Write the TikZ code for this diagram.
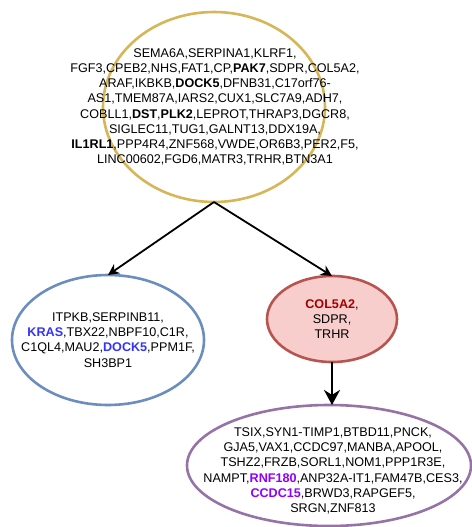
\documentclass[tikz,border=0pt]{standalone}
\usepackage{fontspec}
\setmainfont{Liberation Sans}
\usetikzlibrary{shapes.geometric,arrows.meta}
\definecolor{goldline}{HTML}{D6B656}
\definecolor{blueline}{HTML}{6C8EBF}
\definecolor{redline}{HTML}{B85450}
\definecolor{redfill}{HTML}{F8CECC}
\definecolor{purpleline}{HTML}{9673A6}
\definecolor{bluetxt}{HTML}{3333FF}
\definecolor{redtxt}{HTML}{A00000}
\definecolor{purpletxt}{HTML}{8F00FF}
\tikzset{
  oval/.style={ellipse, draw, line width=2.6pt, inner sep=0pt, outer sep=0pt},
  genes/.style={align=center, inner sep=0pt, font=\fontsize{12.6}{15.2}\selectfont},
  link/.style={draw=black, line width=1.8pt, -{Stealth[length=11pt,width=11pt]}},
  biglink/.style={draw=black, line width=2.8pt, -{Stealth[length=15pt,width=16pt]}}
}
\begin{document}
\begin{tikzpicture}[x=1pt,y=-1pt]
\useasboundingbox (0,0) rectangle (471,527);
% ellipses
\node[oval, draw=goldline, fill=white, minimum width=222pt, minimum height=190pt] (top) at (214,107) {};
\node[oval, draw=blueline, fill=white, minimum width=192pt, minimum height=130pt] (left) at (108,340) {};
\node[oval, draw=redline, fill=redfill, minimum width=130pt, minimum height=86pt] (red) at (332,319) {};
\node[oval, draw=purpleline, fill=white, minimum width=284pt, minimum height=121pt] (purple) at (329,465.5) {};
% texts
\node[genes] (toptext) at (215,107) {SEMA6A,SERPINA1,KLRF1,\\
FGF3,CPEB2,NHS,FAT1,CP,\textbf{PAK7},SDPR,COL5A2,\\
ARAF,IKBKB,\textbf{DOCK5},DFNB31,C17orf76-\\
AS1,TMEM87A,IARS2,CUX1,SLC7A9,ADH7,\\
COBLL1,\textbf{DST},\textbf{PLK2},LEPROT,THRAP3,DGCR8,\\
SIGLEC11,TUG1,GALNT13,DDX19A,\\
\textbf{IL1RL1},PPP4R4,ZNF568,VWDE,OR6B3,PER2,F5,\\
LINC00602,FGD6,MATR3,TRHR,BTN3A1};
\node[genes] (lefttext) at (108,340) {ITPKB,SERPINB11,\\
\textcolor{bluetxt}{\textbf{KRAS}},TBX22,NBPF10,C1R,\\
C1QL4,MAU2,\textcolor{bluetxt}{\textbf{DOCK5}},PPM1F,\\
SH3BP1};
\node[genes] (redtext) at (332,319) {\textcolor{redtxt}{\textbf{COL5A2}},\\
SDPR,\\
TRHR};
\node[genes] (purpletext) at (333,471) {TSIX,SYN1-TIMP1,BTBD11,PNCK,\\
GJA5,VAX1,CCDC97,MANBA,APOOL,\\
TSHZ2,FRZB,SORL1,NOM1,PPP1R3E,\\
NAMPT,\textcolor{purpletxt}{\textbf{RNF180}},ANP32A-IT1,FAM47B,CES3,\\
\textcolor{purpletxt}{\textbf{CCDC15}},BRWD3,RAPGEF5,\\
SRGN,ZNF813};
% connectors
\draw[link] (top.south) -- (left.north);
\draw[link] (top.south) -- (red.north);
\draw[biglink] (red.south) -- (red.south |- purple.north);
\end{tikzpicture}
\end{document}
